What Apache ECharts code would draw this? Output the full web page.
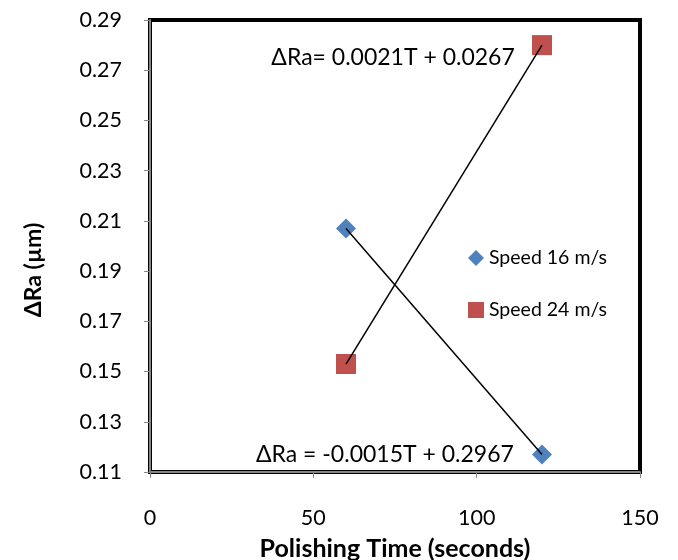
<!DOCTYPE html>
<html><head><meta charset="utf-8">
<script src="https://cdn.jsdelivr.net/npm/echarts@6/dist/echarts.min.js"></script>
<style>html,body{margin:0;padding:0;background:#fff}#c{width:678px;height:560px}</style>
</head><body><div id="c"></div>
<script>
const polishTime = [60, 120];
const speed16 = [0.207, 0.117];
const speed24 = [0.153, 0.280];
const seriesNames = ['Speed 16 m/s', 'Speed 24 m/s'];
const eq16 = 'ΔRa = -0.0015T + 0.2967';
const eq24 = 'ΔRa= 0.0021T + 0.0267';
const xTitle = 'Polishing Time (seconds)';
const yTitle = 'ΔRa (µm)';
const xTicks = [0, 50, 100, 150];
const yTicks = [0.11, 0.13, 0.15, 0.17, 0.19, 0.21, 0.23, 0.25, 0.27, 0.29];

const FONT = 'Lato';
const pts = (ys) => polishTime.map((x, i) => [x, ys[i]]);
const chart = echarts.init(document.getElementById('c'));
chart.setOption({
  animation: false,
  textStyle: { fontFamily: FONT },
  grid: { left: 150, right: 38, top: 20, bottom: 88, containLabel: false, outerBoundsMode: 'none',
    show: true, borderColor: '#000', borderWidth: 4, backgroundColor: '#fff' },
  graphic: [{
    type: 'text', left: 22, top: 270, rotation: Math.PI / 2, silent: true,
    style: { text: yTitle, font: 'bold 23px ' + FONT, fill: '#000', textAlign: 'center', textVerticalAlign: 'middle' },
    x: 34, y: 270, left: null, top: null
  }],
  xAxis: {
    type: 'value', min: xTicks[0], max: xTicks[xTicks.length - 1], interval: 50,
    name: xTitle, nameLocation: 'middle', nameGap: 64,
    nameTextStyle: { fontFamily: FONT, fontWeight: 'bold', fontSize: 25, color: '#000' },
    axisLine: { show: true, lineStyle: { color: '#868686', width: 2 } },
    axisTick: { show: true, length: 6, lineStyle: { color: '#868686', width: 1 } },
    axisLabel: { margin: 35, fontSize: 21.5, color: '#000', fontFamily: FONT },
    splitLine: { show: false }
  },
  yAxis: {
    type: 'value', min: yTicks[0], max: yTicks[yTicks.length - 1], interval: 0.02,
    axisLine: { show: true, lineStyle: { color: '#868686', width: 2 } },
    axisTick: { show: true, length: 6, lineStyle: { color: '#868686', width: 1 } },
    axisLabel: { margin: 28, fontSize: 21.5, color: '#000', fontFamily: FONT, formatter: v => v.toFixed(2) },
    splitLine: { show: false }
  },
  legend: {
    orient: 'vertical', left: 463, top: 243, itemGap: 32, itemWidth: 16, itemHeight: 16,
    textStyle: { fontSize: 19.5, color: '#000', fontFamily: FONT },
    data: [{ name: seriesNames[0], icon: 'diamond' }, { name: seriesNames[1], icon: 'rect' }]
  },
  series: [
    { type: 'line', data: pts(speed16), symbol: 'none', silent: true, z: 3,
      lineStyle: { color: '#000', width: 1.5 },
      markPoint: { symbol: 'circle', symbolSize: 0, silent: true,
        label: { show: true, position: 'inside', formatter: eq16, fontSize: 23, color: '#000', fontFamily: FONT },
        data: [{ coord: [71.9, 0.1168] }] } },
    { type: 'line', data: pts(speed24), symbol: 'none', silent: true, z: 3,
      lineStyle: { color: '#000', width: 1.5 },
      markPoint: { symbol: 'circle', symbolSize: 0, silent: true,
        label: { show: true, position: 'inside', formatter: eq24, fontSize: 23, color: '#000', fontFamily: FONT },
        data: [{ coord: [74.4, 0.2749] }] } },
    { name: seriesNames[0], type: 'scatter', data: pts(speed16), symbol: 'diamond', symbolSize: 20, z: 2,
      itemStyle: { color: '#4F81BD', opacity: 1 } },
    { name: seriesNames[1], type: 'scatter', data: pts(speed24), symbol: 'rect', symbolSize: 20, z: 2,
      itemStyle: { color: '#C0504D', opacity: 1 } }
  ]
});
</script></body></html>
